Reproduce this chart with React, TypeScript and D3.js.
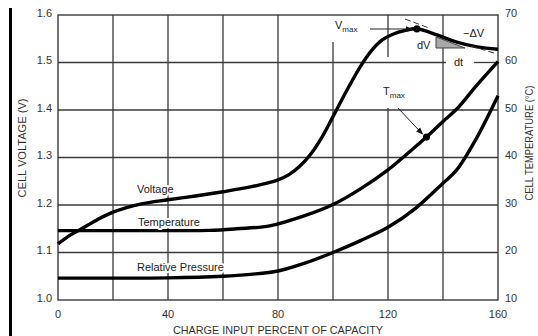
import React from 'react';
import * as d3 from 'd3';

// charge input (% of capacity) vs readings
const voltagePts: [number, number][] = [
  [0, 1.118], [4, 1.135], [8, 1.148], [14, 1.168], [20, 1.185], [30, 1.202], [40, 1.211],
  [50, 1.219], [60, 1.228], [70, 1.238], [76, 1.246], [80, 1.253], [84, 1.264], [88, 1.282],
  [92, 1.308], [96, 1.343], [100, 1.386], [105, 1.441], [110, 1.492], [114, 1.525],
  [118, 1.548], [122, 1.560], [126, 1.567], [130.5, 1.571], [137.8, 1.558], [145, 1.543],
  [152.4, 1.533], [160, 1.528],
];
const temperaturePts: [number, number][] = [
  [0, 24.6], [20, 24.6], [40, 24.6], [55, 24.65], [65, 25.0], [77, 25.6], [90, 27.8],
  [100, 30.1], [110, 33.4], [120, 37.4], [127, 40.8], [134, 44.3], [140, 47.6],
  [145, 50.2], [152.4, 55.3], [160, 60.2],
];
const pressurePts: [number, number][] = [
  [0, 14.6], [20, 14.6], [40, 14.65], [60, 15.0], [70, 15.4], [80, 16.1], [90, 17.8],
  [100, 20.0], [110, 22.5], [120, 25.3], [130, 29.3], [140, 34.6], [145, 37.4],
  [152.4, 44.3], [160, 53.0],
];
const xTicks = [0, 40, 80, 120, 160];
const xGrid = [20, 40, 60, 80, 100, 120, 140];
const vTicks = [1.0, 1.1, 1.2, 1.3, 1.4, 1.5, 1.6];
const tTicks = [10, 20, 30, 40, 50, 60, 70];
const tMaxPoint: [number, number] = [134, 44.3];

const W = 538, H = 336;
const x = d3.scaleLinear().domain([0, 160]).range([58, 498]);
const yV = d3.scaleLinear().domain([1.0, 1.6]).range([300, 15]);
const yT = d3.scaleLinear().domain([10, 70]).range([300, 15]);

const font = '"Liberation Sans", Arial, sans-serif';
const gridColor = '#3a3a3a';

export default function App() {
  const lineV = d3.line<[number, number]>().x(d => x(d[0])).y(d => yV(d[1])).curve(d3.curveCatmullRom);
  const lineT = d3.line<[number, number]>().x(d => x(d[0])).y(d => yT(d[1])).curve(d3.curveCatmullRom);
  const vmax = voltagePts.reduce((a, b) => (b[1] > a[1] ? b : a));
  const vx = x(vmax[0]), vy = yV(vmax[1]);
  const tx = x(tMaxPoint[0]), ty = yT(tMaxPoint[1]);
  const halo = { paintOrder: 'stroke' as const, stroke: '#fff', strokeWidth: 4, strokeLinejoin: 'round' as const };

  // gaps in grid lines where annotations sit
  const vGridSeg = (v: number): [number, number][] => {
    if (v === 100) return [[42, 300]];
    if (v === 120) return [[15, 57], [108, 300]];
    return [[15, 300]];
  };
  const hGridSeg = (v: number): [number, number][] => {
    if (Math.abs(v - 1.5) < 1e-6) return [[58, 446], [474, 498]];
    return [[58, 498]];
  };

  return (
    <svg width={W} height={H} style={{ position: 'fixed', left: 0, top: 0, background: '#fff' }} fontFamily={font}>
      <defs>
        <marker id="arr" viewBox="0 0 10 10" refX="9" refY="5" markerWidth="7" markerHeight="7" orient="auto">
          <path d="M0,1 L10,5 L0,9 Z" fill="#111" />
        </marker>
      </defs>
      <rect x={9} y={8} width={3} height={H - 8} fill="#000" />

      {xGrid.map(v => vGridSeg(v).map((s, i) => (
        <line key={`vg${v}-${i}`} x1={x(v)} x2={x(v)} y1={s[0]} y2={s[1]} stroke={gridColor} strokeWidth={1.3} />
      )))}
      {vTicks.slice(1, -1).map(v => hGridSeg(v).map((s, i) => (
        <line key={`hg${v}-${i}`} x1={s[0]} x2={s[1]} y1={yV(v)} y2={yV(v)} stroke={gridColor} strokeWidth={1.3} />
      )))}
      <rect x={x(0)} y={yV(1.6)} width={x(160) - x(0)} height={yV(1.0) - yV(1.6)} fill="none" stroke={gridColor} strokeWidth={1.4} />

      {/* -dV/dt triangle */}
      <path d="M436,37 L436,48 L465,48 Z" fill="#a8a8a8" stroke="#444" strokeWidth={1} />

      <path d={lineV(voltagePts) || ''} fill="none" stroke="#000" strokeWidth={3.4} />
      <path d={lineT(temperaturePts) || ''} fill="none" stroke="#000" strokeWidth={3.4} />
      <path d={lineT(pressurePts) || ''} fill="none" stroke="#000" strokeWidth={3.4} />

      {/* tangent dashes */}
      <line x1={405} y1={19} x2={429} y2={28} stroke="#333" strokeWidth={1} strokeDasharray="6,3" />
      <line x1={471} y1={46} x2={494} y2={53} stroke="#333" strokeWidth={1} strokeDasharray="6,3" />

      <circle cx={vx} cy={vy} r={3.6} fill="#000" />
      <circle cx={tx} cy={ty} r={3.6} fill="#000" />

      <text x={335} y={29} fontSize={11} fill="#222">V<tspan fontSize={8} dy={3}>max</tspan></text>
      <line x1={370} y1={29} x2={vx - 5} y2={29} stroke="#222" strokeWidth={1} markerEnd="url(#arr)" />
      <text x={383} y={95} fontSize={11} fill="#222">T<tspan fontSize={8} dy={3}>max</tspan></text>
      <line x1={398} y1={108} x2={tx - 4} y2={ty - 3} stroke="#222" strokeWidth={1} markerEnd="url(#arr)" />
      <text x={417} y={49} fontSize={11} fill="#222">dV</text>
      <text x={463} y={37} fontSize={11} fill="#222">−ΔV</text>
      <text x={454} y={66} fontSize={11} fill="#222">dt</text>

      <text x={137} y={193} fontSize={11} fill="#222" style={halo}>Voltage</text>
      <text x={138} y={226} fontSize={11} fill="#222" style={halo}>Temperature</text>
      <text x={137} y={271} fontSize={11} fill="#222" style={halo}>Relative Pressure</text>

      {vTicks.map(v => (
        <text key={`vt${v}`} x={52} y={yV(v) - 1} fontSize={11} fill="#333" textAnchor="end" dominantBaseline="middle">{v.toFixed(1)}</text>
      ))}
      {tTicks.map(v => (
        <text key={`tt${v}`} x={505} y={yT(v) - 1} fontSize={11} fill="#333" dominantBaseline="middle">{v}</text>
      ))}
      {xTicks.map(v => (
        <text key={`xt${v}`} x={x(v)} y={318} fontSize={11} fill="#333" textAnchor="middle">{v}</text>
      ))}

      <text x={278} y={334} fontSize={11} fill="#333" textAnchor="middle" textLength={210} lengthAdjust="spacingAndGlyphs">CHARGE INPUT PERCENT OF CAPACITY</text>
      <text transform="translate(26,148) rotate(-90)" fontSize={11} fill="#333" textAnchor="middle" textLength={99} lengthAdjust="spacingAndGlyphs">CELL VOLTAGE (V)</text>
      <text transform="translate(533,143) rotate(-90)" fontSize={11} fill="#333" textAnchor="middle" textLength={115} lengthAdjust="spacingAndGlyphs">CELL TEMPERATURE (°C)</text>
    </svg>
  );
}
